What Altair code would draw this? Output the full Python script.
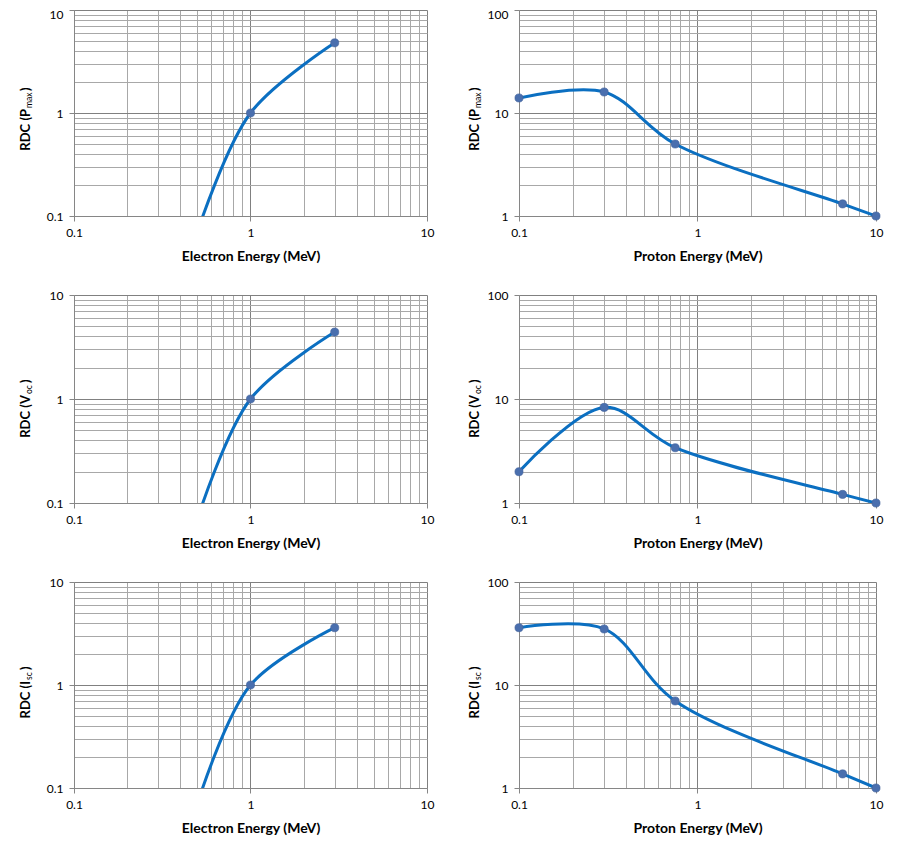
import altair as alt
import pandas as pd

# ---------------- data ----------------
electron_energy = [0.5, 1.0, 3.0]          # first point lies below the axis (clipped)
electron_pmax = [0.07, 1.0, 4.8]
electron_voc = [0.07, 1.0, 4.4]
electron_isc = [0.07, 1.0, 3.6]

proton_energy = [0.1, 0.3, 0.75, 6.5, 10.0]
proton_pmax = [14.0, 16.0, 5.0, 1.31, 1.0]
proton_voc = [2.0, 8.3, 3.4, 1.21, 1.0]
proton_isc = [36.0, 35.0, 7.0, 1.37, 1.0]

x_decades = [0.1, 1, 10]
electron_y_decades = [0.1, 1, 10]
proton_y_decades = [1, 10, 100]
minor_steps = [1, 2, 3, 4, 5, 6, 7, 8, 9]

LINE = "#0b6fc1"
MARK = "#4a6fae"
FONT = "Lato"

MAJOR = "abs(log(datum.value)/LN10 - round(log(datum.value)/LN10)) < 0.001"


def log_ticks(decades):
    vals = []
    for d in decades[:-1]:
        for m in minor_steps:
            vals.append(round(d * m, 6))
    vals.append(decades[-1])
    return vals


def make_axis(values, title, top_value=None):
    kw = {}
    if top_value is not None:
        kw["labelOffset"] = {"condition": {"test": f"datum.value == {top_value}", "value": 4},
                             "value": 0}
    return alt.Axis(
        values=values,
        title=title,
        labelExpr="(" + MAJOR + ") ? format(datum.value, '~g') : ''",
        labelOverlap=False,
        labelFlush=False,
        grid=True,
        gridColor={"condition": {"test": MAJOR, "value": "#808080"}, "value": "#a8a8a8"},
        gridWidth=1,
        tickColor={"condition": {"test": MAJOR, "value": "#868686"}, "value": "transparent"},
        tickSize=5,
        domainColor="#868686",
        labelFont=FONT,
        labelFontSize=12,
        labelColor="#000000",
        labelPadding=6,
        titleFont=FONT,
        titleFontSize=14,
        titleFontWeight="bold",
        titleColor="#000000",
        titlePadding=11,
        **kw,
    )


def panel(energy, rdc, xtitle, letter, sub, sub_w, ydec, w, h, tx, top_row):
    df = pd.DataFrame({"energy": energy, "rdc": rdc})
    xsc = alt.Scale(type="log", domain=[x_decades[0], x_decades[-1]])
    ysc = alt.Scale(type="log", domain=[ydec[0], ydec[-1]])
    base = alt.Chart(df).encode(
        x=alt.X("energy:Q", scale=xsc, axis=make_axis(log_ticks(x_decades), xtitle)),
        y=alt.Y("rdc:Q", scale=ysc,
                axis=make_axis(log_ticks(ydec), None, ydec[-1] if top_row else None)),
    )
    line = base.mark_line(interpolate="catmull-rom", clip=True, color=LINE, strokeWidth=3)
    pts = base.mark_circle(size=66, color=MARK, opacity=1, stroke="#3f6098",
                           strokeWidth=0.6).transform_filter(alt.datum.rdc >= ydec[0])
    y0 = h / 2 - 4
    t_main = alt.Chart(pd.DataFrame({"t": ["RDC (" + letter]})).mark_text(
        angle=270, align="right", baseline="middle", font=FONT, fontSize=13,
        fontWeight="bold", color="#000000"
    ).encode(x=alt.value(tx), y=alt.value(y0), text="t:N")
    t_sub = alt.Chart(pd.DataFrame({"t": [sub]})).mark_text(
        angle=270, align="left", baseline="middle", font=FONT, fontSize=8.5,
        fontWeight="normal", color="#000000", dx=1, dy=3
    ).encode(x=alt.value(tx), y=alt.value(y0), text="t:N")
    t_close = alt.Chart(pd.DataFrame({"t": [")"]})).mark_text(
        angle=270, align="left", baseline="middle", font=FONT, fontSize=13,
        fontWeight="bold", color="#000000", dx=sub_w + 3
    ).encode(x=alt.value(tx), y=alt.value(y0), text="t:N")
    return alt.layer(line, pts, t_main, t_sub, t_close).properties(width=w, height=h)


panels = [
    panel(electron_energy, electron_pmax, "Electron Energy (MeV)", "P", "max", 15,
          electron_y_decades, 353, 206, -48, True),
    panel(proton_energy, proton_pmax, "Proton Energy (MeV)", "P", "max", 15,
          proton_y_decades, 357, 206, -44, True),
    panel(electron_energy, electron_voc, "Electron Energy (MeV)", "V", "oc", 9,
          electron_y_decades, 353, 208, -48, False),
    panel(proton_energy, proton_voc, "Proton Energy (MeV)", "V", "oc", 9,
          proton_y_decades, 357, 208, -44, False),
    panel(electron_energy, electron_isc, "Electron Energy (MeV)", "I", "sc", 8,
          electron_y_decades, 353, 206, -48, False),
    panel(proton_energy, proton_isc, "Proton Energy (MeV)", "I", "sc", 8,
          proton_y_decades, 357, 206, -44, False),
]

chart = alt.concat(
    *panels, columns=2, spacing={"row": 79, "column": 92}, bounds="flush"
).properties(
    padding={"left": 12, "top": 0, "right": 5, "bottom": 5},
    background="white",
).configure_view(strokeWidth=0)

chart.save("out.html", embed_options={"renderer": "svg", "actions": False})
